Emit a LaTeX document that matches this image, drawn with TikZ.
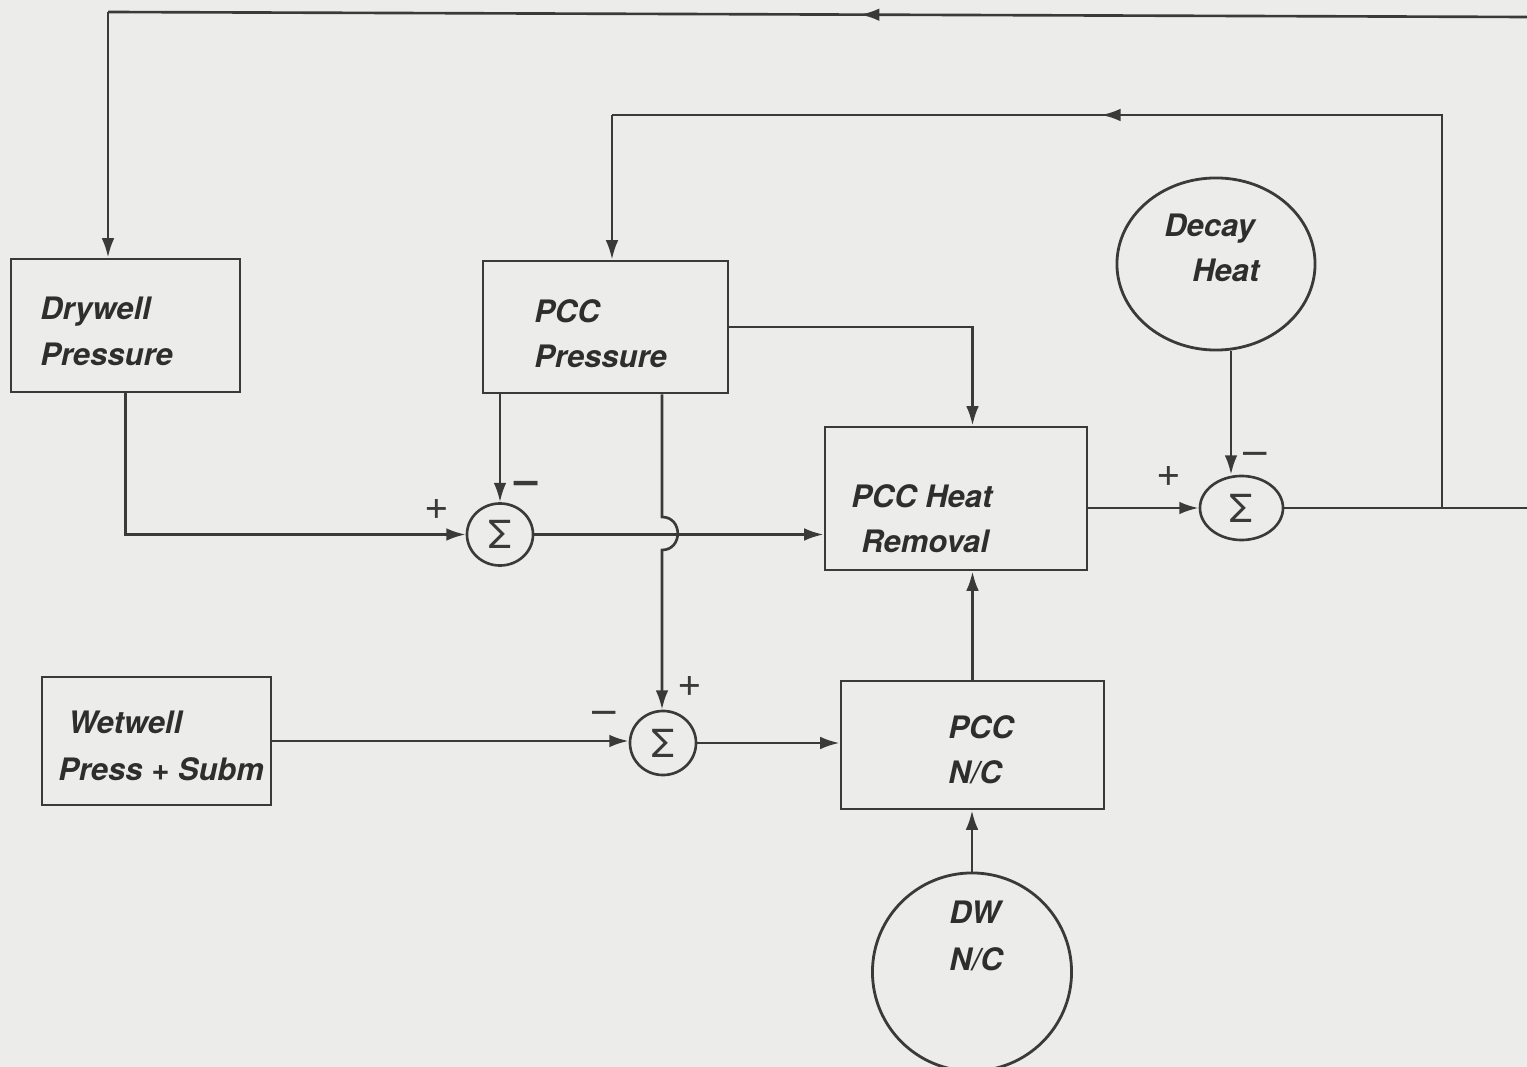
\documentclass[tikz,border=0pt]{standalone}
\usepackage{fontspec}
\setmainfont{TeX Gyre Heros}
\usetikzlibrary{arrows.meta,shapes.geometric,decorations.markings}
\definecolor{bg}{HTML}{ECECEA}
\definecolor{ink}{HTML}{3A3A3A}
\definecolor{txt}{HTML}{2E2E2E}
\begin{document}
\begin{tikzpicture}[x=0.01cm,y=-0.01cm,color=ink,line width=0.75pt,
  box/.style={draw=ink,line width=0.8pt,rectangle,inner sep=0},
  circ/.style={draw=ink,line width=0.8pt,ellipse,inner sep=0},
  lbl/.style={anchor=base west,inner sep=0,text=txt,font=\fontsize{8.8}{10}\selectfont\bfseries\itshape},
  sig/.style={draw=ink,line width=0.75pt,ellipse,inner sep=0,font=\fontsize{11}{12}\selectfont,text=ink},
  sgn/.style={inner sep=0,text=ink,font=\fontsize{12}{12}\selectfont},
  arr/.style={-{Latex[length=5.5pt,width=3.6pt]}},
  midarrow/.style={postaction={decorate},decoration={markings,mark=at position #1 with {\arrow{Latex[length=5.5pt,width=3.6pt]}}}}]
\fill[bg] (0,0) rectangle (1527,1067);
\useasboundingbox (0,0) rectangle (1527,1067);

% blocks
\node[box,minimum width=2.29cm,minimum height=1.33cm] (dry) at (125.5,325.5) {};
\node[box,minimum width=2.45cm,minimum height=1.32cm] (pccp) at (605.5,327) {};
\node[box,minimum width=2.62cm,minimum height=1.43cm] (hr) at (956,498.5) {};
\node[box,minimum width=2.29cm,minimum height=1.28cm] (wet) at (156.5,741) {};
\node[box,minimum width=2.63cm,minimum height=1.28cm] (pnc) at (972.5,745) {};
\node[circ,minimum width=1.98cm,minimum height=1.72cm] (decay) at (1216,264) {};
\node[circ,minimum width=1.99cm,minimum height=1.98cm] (dw) at (972,972) {};

% summing junctions
\node[sig,minimum width=0.66cm,minimum height=0.62cm] (s1) at (500,534.5) {Σ};
\node[sig,minimum width=0.83cm,minimum height=0.64cm] (s2) at (1241.5,508) {Σ};
\node[sig,minimum width=0.66cm,minimum height=0.64cm] (s3) at (663,743) {Σ};

% labels
\node[lbl] (t1a) at (39,320) {Drywell};
\node[lbl] (t1b) at (39,366) {Pressure};
\node[lbl] (t2a) at (533,323) {PCC};
\node[lbl] (t2b) at (533,368) {Pressure};
\node[lbl] (t3a) at (1163,237) {Decay};
\node[lbl] (t3b) at (1191,282) {Heat};
\node[lbl] (t4a) at (850,508) {PCC Heat};
\node[lbl] (t4b) at (860,552) {Removal};
\node[lbl] (t5a) at (67,733) {Wetwell};
\node[lbl] (t5b) at (57,780) {Press + Subm};
\node[lbl] (t6a) at (947,738) {PCC};
\node[lbl] (t6b) at (947,783) {N/C};
\node[lbl] (t7a) at (948,923) {DW};
\node[lbl] (t7b) at (948,970) {N/C};

% signs
\node[sgn] (p1) at (437,510) {+};
\node[sgn,font=\fontsize{12}{12}\selectfont\bfseries] (m1) at (526,488) {–};
\node[sgn] (p3) at (690,686) {+};
\node[sgn] (m3) at (604,718) {–};
\node[sgn] (p2) at (1169,477) {+};
\node[sgn] (m2) at (1255,459) {–};

% coordinates
\coordinate (topR) at (1527,17);
\coordinate (topL) at (108,12);
\coordinate (br) at (1442,508);
\coordinate (fbL) at (612,115);
\coordinate (outR) at (1527,508);
\coordinate (hopT) at (662,517);
\coordinate (hopB) at (662,550);

% connectors
\draw[midarrow=0.47] (topR) -- (topL);
\draw[arr] (topL) -- (topL |- dry.north);
\draw (s2.east) -- (outR);
\draw[midarrow=0.6] (br) |- (fbL);
\draw[arr] (fbL) -- (fbL |- pccp.north);
\draw[arr] (dry.south) |- (s1.west);
\draw[arr] (pccp.south -| s1.north) -- (s1.north);
\draw[arr] (pccp.south -| hopT) -- (hopT) .. controls (683,517) and (683,550) .. (hopB) -- (hopB |- s3.north);
\draw[arr] (pccp.east) -| (hr.north -| pnc.north);
\draw[arr] (s1.east) -- (s1.east -| hr.west);
\draw[arr] (s2.west -| hr.east) -- (s2.west);
\draw[arr] ([xshift=0.15cm]decay.south) -- ([xshift=0.15cm]decay.south |- s2.north);
\draw[arr] (wet.east) -- (wet.east -| s3.west);
\draw[arr] (s3.east) -- (s3.east -| pnc.west);
\draw[arr] (pnc.north) -- (pnc.north |- hr.south);
\draw[arr] (dw.north) -- (dw.north |- pnc.south);
\end{tikzpicture}
\end{document}
